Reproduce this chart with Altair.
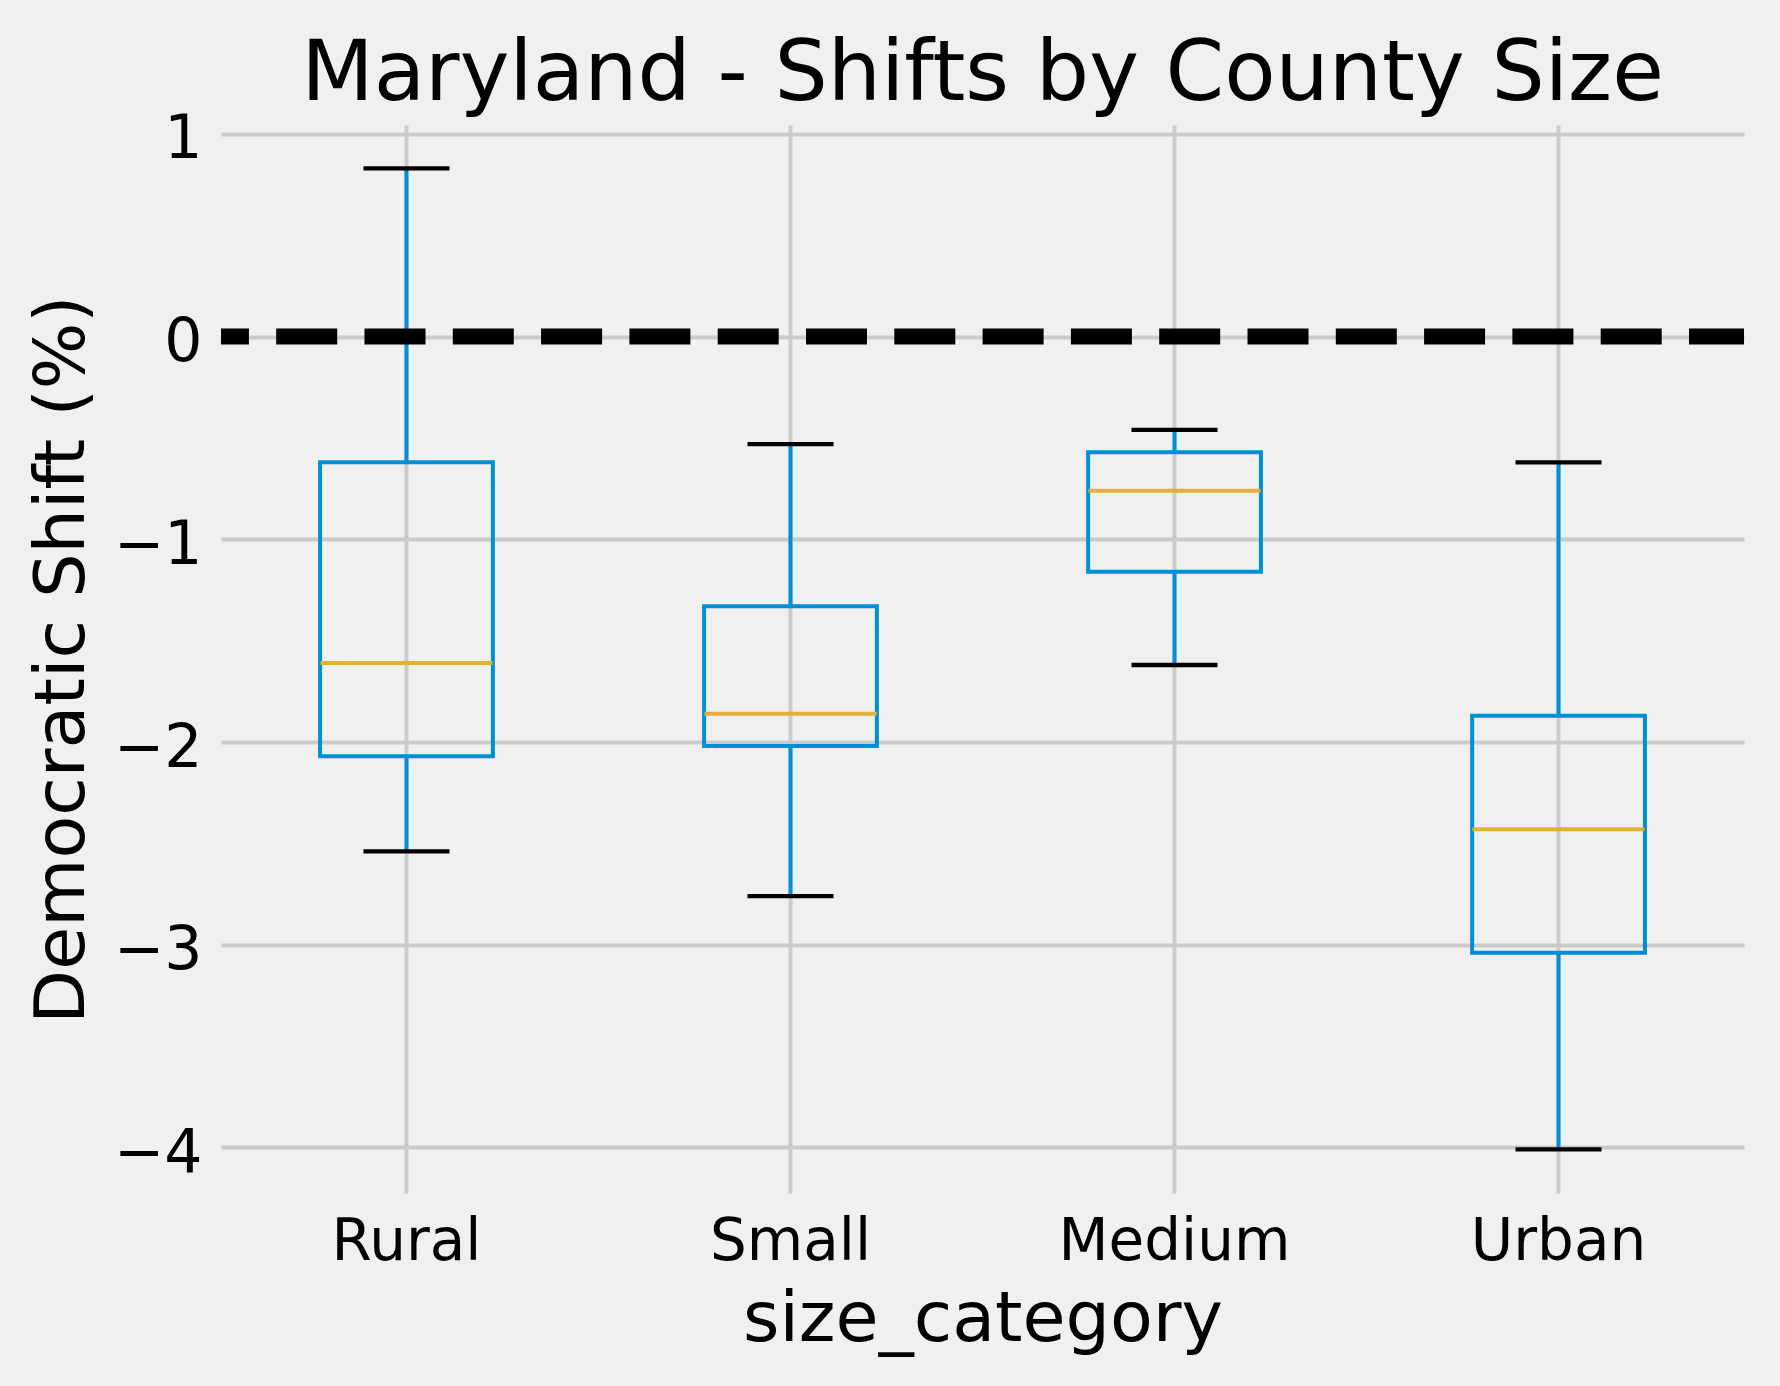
import altair as alt
import pandas as pd

categories = ["Rural", "Small", "Medium", "Urban"]
upper = [0.83, -0.53, -0.46, -0.62]
q3 = [-0.62, -1.33, -0.57, -1.87]
median = [-1.61, -1.86, -0.76, -2.43]
q1 = [-2.07, -2.02, -1.16, -3.04]
lower = [-2.54, -2.76, -1.62, -4.01]
y_ticks = [-4, -3, -2, -1, 0, 1]

df = pd.DataFrame(dict(category=categories, upper=upper, q3=q3,
                       median=median, q1=q1, lower=lower))

FONT = "DejaVu Sans"
BLUE = "#008fd5"
GOLD = "#e5ae38"
GRID = "#cbcbcb"

W, H = 1523, 1068

xscale = alt.Scale(domain=categories, paddingInner=0.55, paddingOuter=0.258)
yscale = alt.Scale(domain=[-4.225, 1.044], nice=False, zero=False)

x_axis = alt.Axis(labelAngle=0, ticks=False, domain=False, grid=True,
                  bandPosition=0.5, labelFontSize=58, labelPadding=66,
                  labelBaseline="alphabetic", labelColor="black", labelLimit=600,
                  titleFontSize=70, titleFontWeight="normal",
                  titleBaseline="alphabetic", titleY=147, titleColor="black",
                  gridColor=GRID, gridWidth=4)
y_axis = alt.Axis(values=y_ticks, format="d", ticks=False, domain=False, grid=True,
                  labelFontSize=60, labelPadding=19, labelBaseline="alphabetic",
                  labelOffset=24, labelColor="black",
                  title="Democratic Shift (%)", titleFontSize=70,
                  titleFontWeight="normal", titleBaseline="alphabetic",
                  titleAlign="center", titleX=-138, titleY=H / 2,
                  titleColor="black", gridColor=GRID, gridWidth=4)

X = alt.X("category:N", sort=categories, scale=xscale, axis=x_axis,
          title="size_category")

base = alt.Chart(df)

whisk_hi = base.mark_rule(color=BLUE, strokeWidth=4).encode(
    x=X, y=alt.Y("q3:Q", scale=yscale, axis=y_axis), y2="upper:Q")
whisk_lo = base.mark_rule(color=BLUE, strokeWidth=4).encode(
    x=X, y=alt.Y("q1:Q", scale=yscale), y2="lower:Q")
box = base.mark_bar(fill="transparent", stroke=BLUE, strokeWidth=4).encode(
    x=X, y=alt.Y("q1:Q", scale=yscale), y2="q3:Q")
med = base.mark_tick(color=GOLD, size=172, thickness=4, opacity=1).encode(
    x=X, y=alt.Y("median:Q", scale=yscale))
cap_hi = base.mark_tick(color="black", size=86, thickness=4.3, opacity=1).encode(
    x=X, y=alt.Y("upper:Q", scale=yscale))
cap_lo = base.mark_tick(color="black", size=86, thickness=4.3, opacity=1).encode(
    x=X, y=alt.Y("lower:Q", scale=yscale))
zero = alt.Chart(pd.DataFrame({"v": [0]})).mark_rule(
    color="black", strokeWidth=16, strokeDash=[61, 27.3], strokeDashOffset=6
).encode(y=alt.Y("v:Q", scale=yscale))

chart = alt.layer(whisk_hi, whisk_lo, box, med, cap_hi, cap_lo, zero).properties(
    width=W, height=H,
    title=alt.TitleParams("Maryland - Shifts by County Size", fontSize=84,
                          fontWeight="normal", font=FONT, color="black",
                          anchor="middle", baseline="alphabetic", offset=31,
                          dy=105),
    autosize=alt.AutoSizeParams(type="none"),
    padding={"left": 221, "top": 125, "right": 36, "bottom": 193},
    background="#f0f0f0",
).configure(font=FONT).configure_view(strokeWidth=0, fill="#f0f0f0")

chart.save("out.html", embed_options={"renderer": "svg", "actions": False})
